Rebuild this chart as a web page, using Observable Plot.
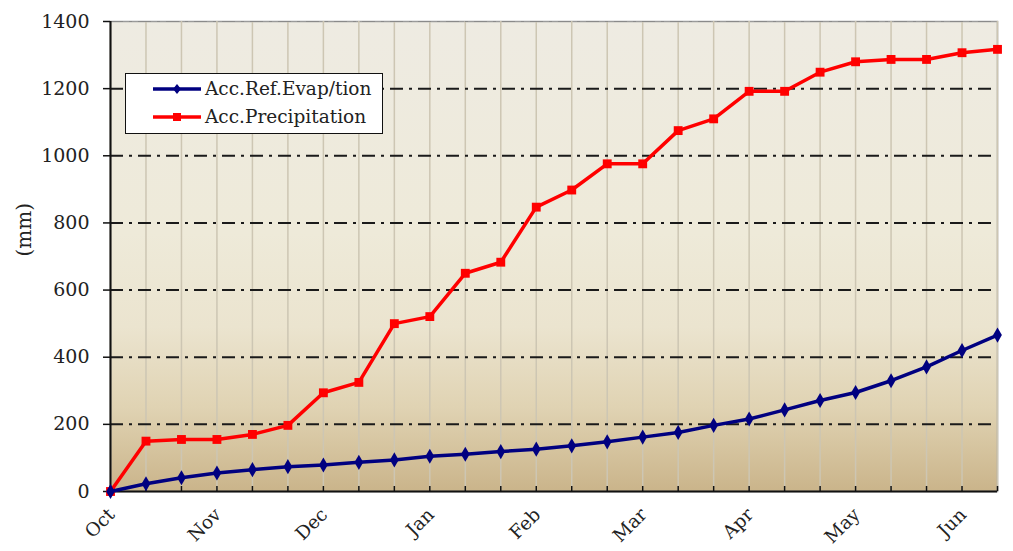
<!DOCTYPE html>
<html>
<head>
<meta charset="utf-8">
<script src="https://cdn.jsdelivr.net/npm/d3@7"></script>
<script src="https://cdn.jsdelivr.net/npm/@observablehq/plot@0.6"></script>
<style>
  html, body { margin: 0; padding: 0; background: #ffffff; }
  #wrap { position: relative; width: 1013px; height: 551px; }
  #legend {
    position: absolute; left: 125px; top: 73px; width: 258px; height: 61px;
    background: #ffffff; border: 1.6px solid #111; box-sizing: border-box;
    font-family: "DejaVu Serif", serif; font-size: 18.5px; color: #222;
  }
  .item { position: absolute; left: 27px; display: flex; align-items: center; white-space: nowrap; }
  .item svg { margin-right: 4px; }
</style>
</head>
<body>
<div id="wrap">
  <div id="chart"></div>
  <div id="legend"></div>
</div>
<script>
// ---- data (10-day steps from October) ----
const steps = d3.range(26);
const evapValues = [0, 23, 41, 55, 65, 74, 79, 87, 94, 105, 111, 119, 126, 136, 148, 162, 176, 197, 216, 243, 271, 295, 330, 371, 420, 466];
const precipValues = [0, 150, 155, 155, 170, 197, 294, 325, 500, 521, 650, 683, 847, 898, 976, 976, 1075, 1110, 1192, 1192, 1249, 1280, 1287, 1287, 1307, 1317];
const monthLabels = ["Oct", "Nov", "Dec", "Jan", "Feb", "Mar", "Apr", "May", "Jun"];
const monthSteps = [0, 3, 6, 9, 12, 15, 18, 21, 24];
const yTicks = [0, 200, 400, 600, 800, 1000, 1200, 1400];
const seriesNames = ["Acc.Ref.Evap/tion", "Acc.Precipitation"];
const seriesColors = ["#000080", "#ff0000"];
const yLabel = "(mm)";

const evap = steps.map(i => ({ i, v: evapValues[i] }));
const precip = steps.map(i => ({ i, v: precipValues[i] }));
const months = monthSteps.map((s, k) => ({ s, label: monthLabels[k] }));

const chart = Plot.plot({
  width: 1013,
  height: 551,
  marginLeft: 110,
  marginRight: 16,
  marginTop: 21,
  marginBottom: 60,
  style: { fontFamily: "DejaVu Serif, serif", fontSize: "18px", color: "#222", background: "transparent", overflow: "visible" },
  x: { domain: [0, 25] },
  y: { domain: [0, 1400] },
  marks: [
    Plot.frame({ fill: "url(#bggrad)", stroke: "#9a9a9a", strokeWidth: 1.5 }),
    Plot.gridX(steps, { stroke: "#cdc6b3", strokeOpacity: 1, strokeWidth: 1.5 }),
    Plot.gridY(yTicks.filter(t => t > 0 && t < 1400), { stroke: "#1a1a1a", strokeOpacity: 1, strokeWidth: 2, strokeDasharray: "13,6,3,6" }),
    Plot.gridY([1400], { stroke: "#8a8a8a", strokeOpacity: 1, strokeWidth: 1.2, strokeDasharray: "13,6,3,6" }),
    Plot.ruleX([0], { stroke: "#111", strokeWidth: 2 }),
    Plot.ruleY([0], { stroke: "#111", strokeWidth: 2 }),
    Plot.axisY(yTicks, { tickSize: 7, tickPadding: 14, label: null, fontSize: 19, tickFormat: d => String(d), stroke: "#111", strokeWidth: 1.5 }),
    Plot.axisX(steps, { tickSize: 5, dy: -5, tickFormat: () => "", label: null, stroke: "#111", strokeWidth: 1.5 }),
    Plot.text(months, { x: "s", frameAnchor: "bottom", text: "label", rotate: -45, textAnchor: "end", lineAnchor: "top", dx: -4, dy: 15, fontSize: 18.5, fill: "#222" }),
    Plot.text([yLabel], { frameAnchor: "left", dx: -86, rotate: -90, fontSize: 20, fill: "#222" }),
    Plot.line(precip, { x: "i", y: "v", stroke: seriesColors[1], strokeWidth: 3.5 }),
    Plot.dot(precip, { x: "i", y: "v", symbol: "square", r: 5, fill: seriesColors[1], stroke: null }),
    Plot.line(evap, { x: "i", y: "v", stroke: seriesColors[0], strokeWidth: 3.5 }),
    Plot.dot(evap, { x: "i", y: "v", symbol: "diamond", r: 4.6, fill: seriesColors[0], stroke: null })
  ]
});

// background gradient for the plot area
const svg = d3.select(chart.tagName.toLowerCase() === "svg" ? chart : chart.querySelector("svg"));
const defs = svg.insert("defs", ":first-child");
const grad = defs.append("linearGradient").attr("id", "bggrad").attr("x1", 0).attr("y1", 0).attr("x2", 0).attr("y2", 1);
[["0%", "#eeebe2"], ["45%", "#eeead9"], ["65%", "#ebe4cf"], ["82%", "#e0d3b3"], ["100%", "#cab48a"]]
  .forEach(([o, c]) => grad.append("stop").attr("offset", o).attr("stop-color", c));

document.getElementById("chart").appendChild(chart);

// legend
const legend = document.getElementById("legend");
seriesNames.forEach((name, k) => {
  const item = document.createElement("div");
  item.className = "item";
  item.style.top = (k === 0 ? 4 : 32) + "px";
  const marker = k === 0
    ? `<path d="M24,3 L28,8 L24,13 L20,8 Z" fill="${seriesColors[k]}"/>`
    : `<rect x="20" y="4" width="8" height="8" fill="${seriesColors[k]}"/>`;
  item.innerHTML = `<svg width="48" height="16"><line x1="0" y1="8" x2="48" y2="8" stroke="${seriesColors[k]}" stroke-width="3.5"/>${marker}</svg><span>${name}</span>`;
  legend.appendChild(item);
});
</script>
</body>
</html>
